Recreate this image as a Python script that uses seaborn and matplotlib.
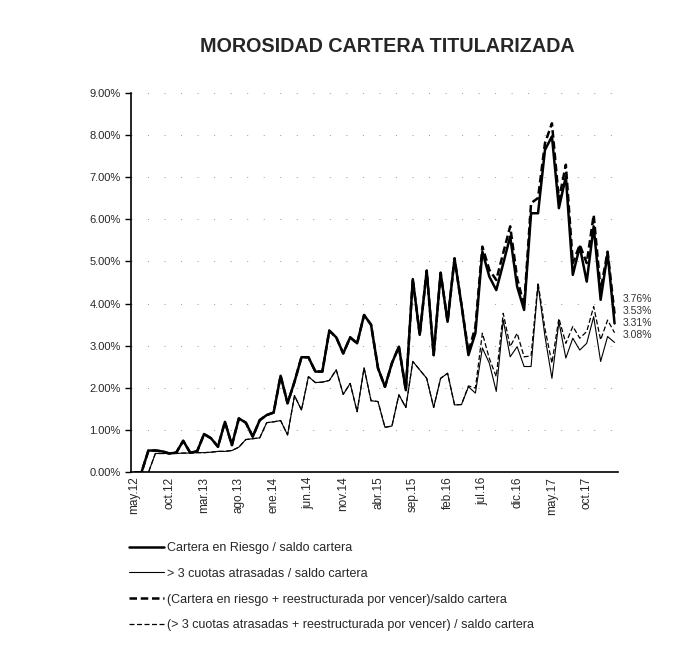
import numpy as np
import pandas as pd
import matplotlib
matplotlib.use("Agg")
import matplotlib.pyplot as plt
import matplotlib.ticker as mticker
import seaborn as sns

# Monthly values, may.12 .. feb.18 (70 months), in %
cartera_riesgo = [0.00, 0.00, 0.52, 0.52, 0.50, 0.45, 0.47, 0.75, 0.47, 0.50,
                  0.91, 0.81, 0.61, 1.20, 0.65, 1.28, 1.18, 0.85, 1.24, 1.36,
                  1.42, 2.29, 1.64, 2.15, 2.73, 2.73, 2.39, 2.39, 3.36, 3.20,
                  2.82, 3.20, 3.06, 3.73, 3.50, 2.47, 2.03, 2.59, 2.98, 1.95,
                  4.58, 3.26, 4.78, 2.78, 4.73, 3.57, 5.07, 3.97, 2.78, 3.30,
                  5.23, 4.64, 4.32, 4.95, 5.59, 4.40, 3.85, 6.14, 6.14, 7.64,
                  7.96, 6.26, 7.01, 4.68, 5.35, 4.52, 5.83, 4.09, 5.19, 3.53]

cuotas_3 = [0.00, 0.00, 0.00, 0.45, 0.45, 0.45, 0.45, 0.46, 0.46, 0.47,
            0.47, 0.48, 0.50, 0.50, 0.52, 0.60, 0.78, 0.80, 0.82, 1.18,
            1.20, 1.23, 0.89, 1.82, 1.48, 2.27, 2.13, 2.14, 2.18, 2.43,
            1.85, 2.11, 1.44, 2.48, 1.70, 1.68, 1.07, 1.10, 1.84, 1.54,
            2.63, 2.43, 2.23, 1.54, 2.23, 2.35, 1.60, 1.61, 2.03, 1.88,
            2.95, 2.59, 1.92, 3.61, 2.74, 2.98, 2.51, 2.51, 4.45, 3.22,
            2.23, 3.57, 2.71, 3.18, 2.90, 3.06, 3.69, 2.63, 3.22, 3.08]

riesgo_reestr = cartera_riesgo[:48] + [2.85, 3.45,
                 5.35, 4.80, 4.56, 5.20, 5.83, 4.60, 3.95, 6.38, 6.50, 7.80,
                 8.27, 6.46, 7.29, 4.96, 5.39, 4.96, 6.10, 4.32, 5.23, 3.76]

cuotas_reestr = cuotas_3[:48] + [2.05, 2.00,
                 3.30, 2.70, 2.27, 3.77, 2.98, 3.30, 2.74, 2.76, 4.50, 3.40,
                 2.59, 3.65, 3.06, 3.46, 3.18, 3.34, 3.93, 3.14, 3.61, 3.31]

tick_labels = ["may.12", "oct.12", "mar.13", "ago.13", "ene.14", "jun.14",
               "nov.14", "abr.15", "sep.15", "feb.16", "jul.16", "dic.16",
               "may.17", "oct.17"]

series_names = ["Cartera en Riesgo / saldo cartera",
                "> 3 cuotas atrasadas / saldo cartera",
                "(Cartera en riesgo + reestructurada por vencer)/saldo cartera",
                "(> 3 cuotas atrasadas + reestructurada por vencer) / saldo cartera"]

sns.set_style("white")
plt.rcParams['font.family'] = ['Liberation Sans', 'DejaVu Sans']

months = np.arange(len(cartera_riesgo))
df = pd.DataFrame({
    "mes": np.tile(months, 4),
    "valor": cartera_riesgo + cuotas_3 + riesgo_reestr + cuotas_reestr,
    "serie": np.repeat(series_names, len(months)),
})

fig = plt.figure(figsize=(6.75, 6.46), dpi=100)
ax = fig.add_axes([0.1941, 0.2686, 0.7215, 0.5882])

styles = [
    dict(lw=1.8, ls="-"),
    dict(lw=0.8, ls="-"),
    dict(lw=1.8, ls=(0, (3, 1.5))),
    dict(lw=0.9, ls=(0, (4, 2))),
]
for name, st in zip(series_names, styles):
    sns.lineplot(data=df[df["serie"] == name], x="mes", y="valor", ax=ax,
                 color="black", linewidth=st["lw"], linestyle=st["ls"],
                 label=name, legend=False)

# end-of-series data labels, stacked so they stay readable
label_offsets = [10.6, 8.9, 7.0, 5.3]
for vals, dy in zip([riesgo_reestr, cartera_riesgo, cuotas_reestr, cuotas_3],
                    label_offsets):
    ax.annotate(f"{vals[-1]:.2f}%", xy=(months[-1], vals[-1]),
                xytext=(6, dy), textcoords="offset points",
                fontsize=7.5, va="center", ha="left", color="0.2",
                annotation_clip=False)

ax.set_xlim(-0.5, len(months) - 0.5)
ax.set_ylim(0, 9)
ax.yaxis.set_major_locator(mticker.MultipleLocator(1))
ax.yaxis.set_major_formatter(mticker.PercentFormatter(xmax=100, decimals=2))

ax.set_xticks(np.arange(0, len(tick_labels) * 5, 5))
ax.set_xticklabels(tick_labels, rotation=90, fontsize=8.5)
ax.set_xticks(np.arange(-0.5, len(months), 5), minor=True)
ax.tick_params(axis="x", which="major", length=0, pad=3)
ax.tick_params(axis="x", which="minor", length=4, width=1, direction="out",
               color="black")
ax.tick_params(axis="y", length=4, width=1, direction="out", labelsize=8,
               left=True, color="black")
ax.set_xlabel("")
ax.set_ylabel("")

ax.yaxis.grid(True, linestyle=(0, (1, 16)), color="0.6", linewidth=0.7)
for side in ["top", "right"]:
    ax.spines[side].set_visible(False)
for side in ["left", "bottom"]:
    ax.spines[side].set_color("black")
    ax.spines[side].set_linewidth(1.2)

fig.text(387 / 675, 1 - 47 / 646, "MOROSIDAD CARTERA TITULARIZADA",
         ha="center", va="center", fontsize=14.2, fontweight="bold")

handles, labels = ax.get_legend_handles_labels()
fig.legend(handles, labels, loc="upper left",
           bbox_to_anchor=(129 / 675, 1 - 542 / 646), frameon=False,
           fontsize=9, handlelength=2.8, handletextpad=0.25,
           labelspacing=1.1, borderpad=0, borderaxespad=0)

fig.savefig("out.png", dpi=100)
